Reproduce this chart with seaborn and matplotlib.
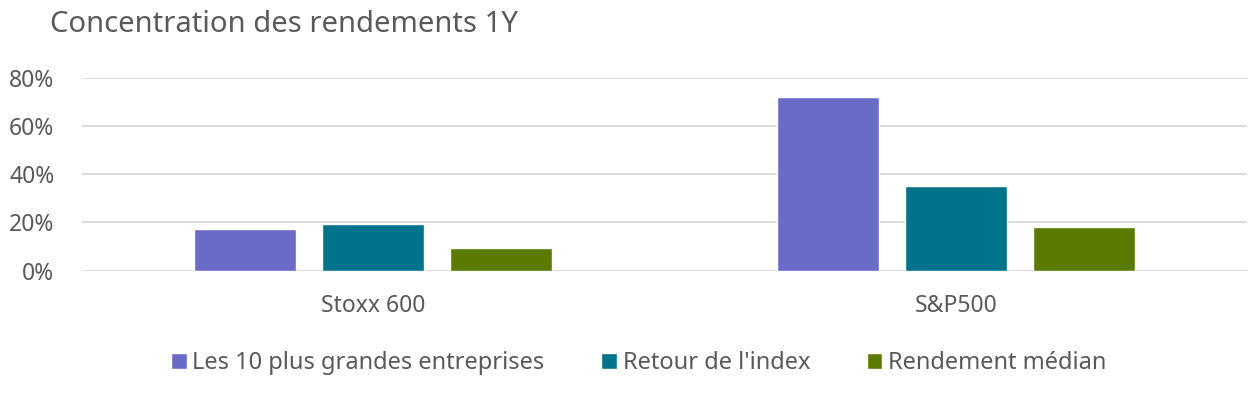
import matplotlib
matplotlib.use("Agg")
import matplotlib.pyplot as plt
import seaborn as sns
import pandas as pd
from matplotlib.ticker import FuncFormatter

categories = ["Stoxx 600", "S&P500"]
series = ["Les 10 plus grandes entreprises", "Retour de l'index", "Rendement médian"]
top10 = [17.3, 72.3]
index_ret = [19.4, 35.0]
median_ret = [9.4, 18.0]
colors = ["#6A6BC9", "#00738C", "#5A7A00"]

rows = []
for vals, s in zip([top10, index_ret, median_ret], series):
    for c, v in zip(categories, vals):
        rows.append({"cat": c, "series": s, "value": v})
df = pd.DataFrame(rows)

sns.set_theme(style="white")
plt.rcParams['font.family'] = ['Noto Sans', 'DejaVu Sans']
txt = "#595959"

fig = plt.figure(figsize=(12.56, 3.97), dpi=100)
ax = fig.add_axes([0.0649, 0.3186, 0.9283, 0.4849])
sns.barplot(data=df, x="cat", y="value", hue="series", order=categories,
            hue_order=series, palette=colors, width=0.661, gap=0.206,
            saturation=1, ax=ax, legend=True)

ax.set_ylim(0, 80)
ax.set_xlim(-0.5, 1.5)
ax.set_yticks([0, 20, 40, 60, 80])
ax.yaxis.set_major_formatter(FuncFormatter(lambda v, p: f"{int(v)}%"))
ax.grid(axis="y", color="#D9D9D9", linewidth=1.3)
ax.set_axisbelow(True)
for s in ax.spines.values():
    s.set_visible(False)
ax.tick_params(axis="y", length=0, pad=19.5, labelsize=16.5, labelcolor=txt)
ax.tick_params(axis="x", length=0, pad=17, labelsize=16.5, labelcolor=txt)
ax.set_xlabel("")
ax.set_ylabel("")

leg = ax.legend(loc="center", bbox_to_anchor=(0.478, -0.48), ncol=3, frameon=False,
                fontsize=17, handlelength=0.65, handleheight=0.65, handletextpad=0.25,
                columnspacing=2.4)
for t in leg.get_texts():
    t.set_color(txt)

fig.text(0.0398, 1 - 32 / 397, "Concentration des rendements 1Y", fontsize=21,
         color=txt, ha="left", va="baseline")

fig.savefig("out.png", dpi=100)
